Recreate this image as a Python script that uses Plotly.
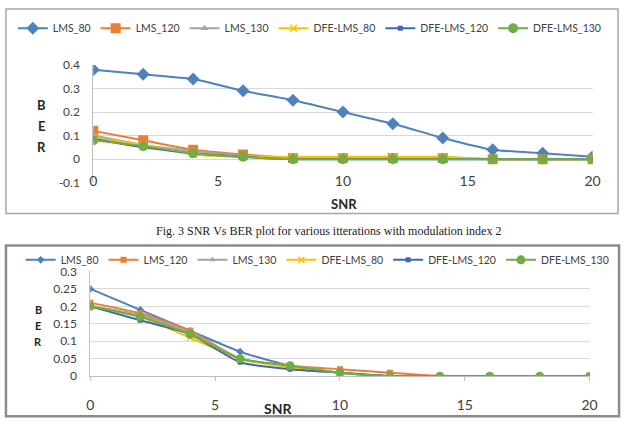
import plotly.graph_objects as go

snr = [0, 2, 4, 6, 8, 10, 12, 14, 16, 18, 20]
names = ["LMS_80", "LMS_120", "LMS_130", "DFE-LMS_80", "DFE-LMS_120", "DFE-LMS_130"]

# Top chart (modulation index 2)
top_lms_80 = [0.38, 0.36, 0.34, 0.29, 0.25, 0.20, 0.15, 0.09, 0.04, 0.025, 0.01]
top_lms_120 = [0.12, 0.08, 0.04, 0.02, 0.005, 0.005, 0.005, 0.005, 0.0, 0.0, 0.0]
top_lms_130 = [0.10, 0.06, 0.035, 0.015, 0.005, 0.005, 0.005, 0.005, 0.0, 0.0, 0.0]
top_dfe_80 = [0.09, 0.06, 0.02, 0.01, 0.01, 0.01, 0.01, 0.01, 0.0, 0.0, 0.0]
top_dfe_120 = [0.085, 0.05, 0.025, 0.01, 0.0, 0.0, 0.0, 0.0, 0.0, 0.0, 0.0]
top_dfe_130 = [0.08, 0.055, 0.025, 0.01, 0.0, 0.0, 0.0, 0.0, 0.0, 0.0, 0.0]

# Bottom chart
bot_lms_80 = [0.25, 0.19, 0.13, 0.07, 0.03, 0.01, 0.0, 0.0, 0.0, 0.0, 0.0]
bot_lms_120 = [0.21, 0.18, 0.13, 0.05, 0.03, 0.02, 0.01, 0.0, 0.0, 0.0, 0.0]
bot_lms_130 = [0.20, 0.175, 0.125, 0.05, 0.03, 0.01, 0.0, 0.0, 0.0, 0.0, 0.0]
bot_dfe_80 = [0.20, 0.17, 0.11, 0.05, 0.025, 0.01, 0.0, 0.0, 0.0, 0.0, 0.0]
bot_dfe_120 = [0.20, 0.16, 0.12, 0.04, 0.02, 0.01, 0.0, 0.0, 0.0, 0.0, 0.0]
bot_dfe_130 = [0.20, 0.17, 0.12, 0.05, 0.03, 0.01, 0.0, 0.0, 0.0, 0.0, 0.0]

x_ticks = [0, 5, 10, 15, 20]
top_y_ticks = [-0.1, 0, 0.1, 0.2, 0.3, 0.4]
top_y_labels = ["-0.1", "0", "0.1", "0.2", "0.3", "0.4"]
bot_y_ticks = [0, 0.05, 0.1, 0.15, 0.2, 0.25, 0.3]
bot_y_labels = ["0", "0.05", "0.1", "0.15", "0.2", "0.25", "0.3"]

caption = "Fig. 3 SNR Vs BER plot for various itterations with modulation index 2"

colors = ["#4F81BD", "#ED7D31", "#A5A5A5", "#FFC000", "#3F67B0", "#70AD47"]
symbols = ["diamond", "square", "triangle-up", "x-thin-open", "square", "circle"]
top_sizes = [10, 10, 7, 7, 5, 10]
bot_sizes = [6, 6, 6, 6, 5, 9]

top_series = [top_lms_80, top_lms_120, top_lms_130, top_dfe_80, top_dfe_120, top_dfe_130]
bot_series = [bot_lms_80, bot_lms_120, bot_lms_130, bot_dfe_80, bot_dfe_120, bot_dfe_130]

FONT = "Lato"
W, H = 630, 429

def px(v):
    return v / W

def py(v):
    return 1 - v / H

fig = go.Figure()

for i, (nm, ys) in enumerate(zip(names, top_series)):
    mk = dict(symbol=symbols[i], size=top_sizes[i], color=colors[i])
    if symbols[i].endswith("open"):
        mk["line"] = dict(color=colors[i], width=1.5)
    fig.add_trace(go.Scatter(
        x=snr, y=ys, name=nm, mode="lines+markers", xaxis="x", yaxis="y",
        line=dict(color=colors[i], width=2, shape="spline", smoothing=0.6),
        marker=mk, legend="legend"))

for i, (nm, ys) in enumerate(zip(names, bot_series)):
    mk = dict(symbol=symbols[i], size=bot_sizes[i], color=colors[i])
    if symbols[i].endswith("open"):
        mk["line"] = dict(color=colors[i], width=1.5)
    fig.add_trace(go.Scatter(
        x=snr, y=ys, name=nm, mode="lines+markers", xaxis="x3", yaxis="y3",
        line=dict(color=colors[i], width=2, shape="spline", smoothing=0.6),
        marker=mk, legend="legend2"))

top_dom_x = [px(91), px(600)]
top_dom_y = [py(181), py(59)]
bot_dom_x = [px(88), px(597)]
bot_dom_y = [py(381.5), py(273)]

grid = "#D9D9D9"
axc = "#BFBFBF"
tickfont = dict(family=FONT, size=12, color="#404040")

zero_pos = top_dom_y[0] + (0 - (-0.1)) / 0.5 * (top_dom_y[1] - top_dom_y[0])

fig.update_layout(
    width=W, height=H, margin=dict(l=0, r=0, t=0, b=0),
    paper_bgcolor="white", plot_bgcolor="white",
    font=dict(family=FONT, color="#404040"),
    xaxis=dict(domain=top_dom_x, anchor="y", range=[0, 20], tickvals=x_ticks,
               showgrid=False, zeroline=False, showline=False, ticks="",
               tickfont=dict(family=FONT, size=14, color="#404040"),
               ticklabelstandoff=-12),
    xaxis2=dict(domain=top_dom_x, overlaying="x", anchor="free", position=zero_pos,
                range=[0, 20], tickvals=x_ticks, showticklabels=False,
                showgrid=False, zeroline=False, showline=True, linecolor=axc,
                linewidth=1, ticks="outside", ticklen=4, tickcolor=axc),
    yaxis=dict(domain=top_dom_y, anchor="x", range=[-0.1, 0.4],
               tickvals=top_y_ticks, ticktext=top_y_labels,
               showgrid=True, gridcolor=grid, gridwidth=1, zeroline=False,
               showline=True, linecolor=axc, ticks="", tickfont=tickfont,
               ticklabelstandoff=10),
    xaxis3=dict(domain=bot_dom_x, anchor="y3", range=[0, 20], tickvals=x_ticks,
                showgrid=False, zeroline=False, showline=True, linecolor=axc,
                ticks="outside", ticklen=4, tickcolor=axc,
                tickfont=dict(family=FONT, size=14, color="#404040"),
                ticklabelstandoff=12),
    yaxis3=dict(domain=bot_dom_y, anchor="x3", range=[0, 0.3],
                tickvals=bot_y_ticks, ticktext=bot_y_labels,
                showgrid=True, gridcolor=grid, gridwidth=1, zeroline=False,
                showline=True, linecolor=axc, ticks="", tickfont=tickfont,
                ticklabelstandoff=10),
    legend=dict(orientation="h", x=px(9), y=py(21), xanchor="left", yanchor="middle",
                font=dict(family=FONT, size=10.5, color="#404040"),
                bgcolor="rgba(0,0,0,0)", itemwidth=30, tracegroupgap=0),
    legend2=dict(orientation="h", x=px(17), y=py(261), xanchor="left", yanchor="middle",
                 font=dict(family=FONT, size=10.5, color="#404040"),
                 bgcolor="rgba(0,0,0,0)", itemwidth=30, tracegroupgap=0),
    showlegend=True,
)

shapes = [
    dict(type="rect", xref="paper", yref="paper", x0=px(2), x1=px(626), y0=py(213), y1=py(1),
         line=dict(color="#A6A6A6", width=1.5), fillcolor="rgba(0,0,0,0)", layer="below"),
    dict(type="rect", xref="paper", yref="paper", x0=px(2), x1=px(627), y0=py(423), y1=py(246),
         line=dict(color="#8C8C8C", width=2.5), fillcolor="rgba(0,0,0,0)", layer="below"),
]
fig.update_layout(shapes=shapes)

ann = []
bold = dict(family=FONT, size=13, color="#262626")
for letter, yy in zip(["B", "E", "R"], [101, 122, 144]):
    ann.append(dict(text="<b>%s</b>" % letter, x=px(38), y=py(yy), xref="paper", yref="paper",
                    showarrow=False, font=bold, xanchor="center", yanchor="middle"))
for letter, yy in zip(["B", "E", "R"], [312, 329, 346]):
    ann.append(dict(text="<b>%s</b>" % letter, x=px(35), y=py(yy), xref="paper", yref="paper",
                    showarrow=False, font=dict(family=FONT, size=11, color="#262626"),
                    xanchor="center", yanchor="middle"))
ann.append(dict(text="<b>SNR</b>", x=px(347), y=py(203), xref="paper", yref="paper",
                showarrow=False, font=bold, xanchor="center", yanchor="middle"))
ann.append(dict(text="<b>SNR</b>", x=px(279), y=py(415), xref="paper", yref="paper",
                showarrow=False, font=dict(family=FONT, size=14, color="#262626"),
                xanchor="center", yanchor="middle"))
ann.append(dict(text=caption, x=px(331), y=py(231), xref="paper", yref="paper",
                showarrow=False, font=dict(family="Liberation Serif", size=12, color="#222222"),
                xanchor="center", yanchor="middle"))
fig.update_layout(annotations=ann)

fig.write_html("out.html")
